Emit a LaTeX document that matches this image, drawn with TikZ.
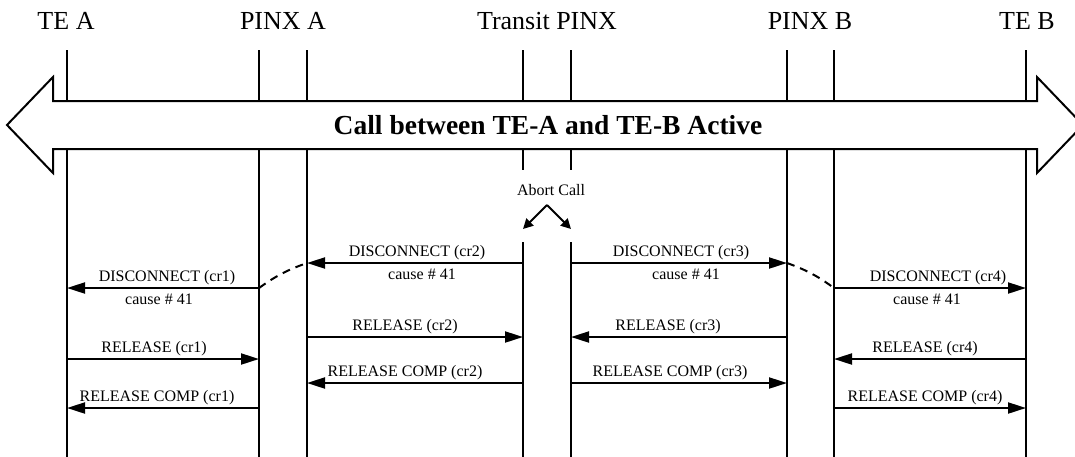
\documentclass[tikz,border=0pt]{standalone}
\usepackage{fontspec}
\setmainfont{Liberation Serif}
\usetikzlibrary{arrows.meta}
\begin{document}
\begin{tikzpicture}[x=1pt,y=-1pt,
  life/.style={line width=2pt},
  msg/.style={line width=2pt,-{Triangle[length=18pt,width=11pt]}},
  lbl/.style={font=\fontsize{16}{16}\selectfont, anchor=base, inner sep=0pt},
  up/.style={lbl, midway, yshift=7pt},
  down/.style={lbl, midway, yshift=-16pt},
  head/.style={font=\fontsize{26}{26}\selectfont, anchor=base, inner sep=0pt},
  link/.style={line width=2pt, dash pattern=on 8pt off 6pt},
]
\useasboundingbox (0,0) rectangle (1075,456);
\clip (0,0) rectangle (1075,456);

% lane positions
\coordinate (ta)  at (67,0);
\coordinate (pal) at (259,0);
\coordinate (par) at (307,0);
\coordinate (tl)  at (523,0);
\coordinate (tr)  at (571,0);
\coordinate (pbl) at (787,0);
\coordinate (pbr) at (834,0);
\coordinate (tb)  at (1026,0);

% lane headers
\node[head] (hta) at (66,29)   {TE A};
\node[head] (hpa) at (283,29)  {PINX A};
\node[head] (htr) at (547,29)  {Transit PINX};
\node[head] (hpb) at (810,29)  {PINX B};
\node[head] (htb) at (1027,29) {TE B};

% lifelines above the call band
\foreach \c in {ta,pal,par,tl,tr,pbl,pbr,tb}
  \draw[life] (\c |- 0,50) -- (\c |- 0,101);
% lifelines below the call band
\foreach \c in {ta,pal,par,pbl,pbr,tb}
  \draw[life] (\c |- 0,149) -- (\c |- 0,460);
\foreach \c in {tl,tr}{
  \draw[life] (\c |- 0,149) -- (\c |- 0,170);
  \draw[life] (\c |- 0,242) -- (\c |- 0,460);
}

% active call band
\draw[line width=2pt, fill=white, line join=miter]
  (53,101) -- (1037,101) -- (1037,77) -- (1083,125) -- (1037,173)
  -- (1037,149) -- (53,149) -- (53,173) -- (7,125) -- (53,77) -- cycle;
\node[font=\fontsize{27.5}{27.5}\selectfont\bfseries, anchor=base, inner sep=0pt]
  (call) at (548,134) {Call between TE-A and TE-B Active};

% abort trigger in the transit PINX
\node[lbl] (abort) at (551,195) {Abort Call};
\coordinate (apex) at (547,205);
\draw[line width=2pt, -{Triangle[length=10pt,width=10pt]}] (apex) -- (tl |- 0,229);
\draw[line width=2pt, -{Triangle[length=10pt,width=10pt]}] (apex) -- (tr |- 0,229);

% disconnect messages
\draw[msg] (tl |- 0,263) -- node[up, xshift=2pt] {DISCONNECT (cr2)}
  node[down, xshift=7pt] {cause \# 41} (par |- 0,263);
\draw[msg] (tr |- 0,263) -- node[up, xshift=2pt] {DISCONNECT (cr3)}
  node[down, xshift=7pt] {cause \# 41} (pbl |- 0,263);
\draw[msg] (pal |- 0,288) -- node[up, xshift=4pt] {DISCONNECT (cr1)}
  node[down, xshift=-4pt] {cause \# 41} (ta |- 0,288);
\draw[msg] (pbr |- 0,288) -- node[up, xshift=8pt] {DISCONNECT (cr4)}
  node[down, xshift=-3pt] {cause \# 41} (tb |- 0,288);

% relay links inside PINX A and PINX B
\draw[link] (pal |- 0,288) to[bend left=8] (par |- 0,263);
\draw[link] (pbl |- 0,263) to[bend left=8] (pbr |- 0,288);

% release messages
\draw[msg] (par |- 0,337) -- node[up, xshift=-10pt] {RELEASE (cr2)} (tl |- 0,337);
\draw[msg] (pbl |- 0,337) -- node[up, xshift=-11pt] {RELEASE (cr3)} (tr |- 0,337);
\draw[msg] (ta |- 0,359) -- node[up, xshift=-9pt] {RELEASE (cr1)} (pal |- 0,359);
\draw[msg] (tb |- 0,359) -- node[up, xshift=-5pt] {RELEASE (cr4)} (pbr |- 0,359);

% release complete messages
\draw[msg] (tl |- 0,383) -- node[up, xshift=-10pt] {RELEASE COMP (cr2)} (par |- 0,383);
\draw[msg] (tr |- 0,383) -- node[up, xshift=-9pt] {RELEASE COMP (cr3)} (pbl |- 0,383);
\draw[msg] (pal |- 0,408) -- node[up, xshift=-6pt] {RELEASE COMP (cr1)} (ta |- 0,408);
\draw[msg] (pbr |- 0,408) -- node[up, xshift=-5pt] {RELEASE COMP (cr4)} (tb |- 0,408);
\end{tikzpicture}
\end{document}
